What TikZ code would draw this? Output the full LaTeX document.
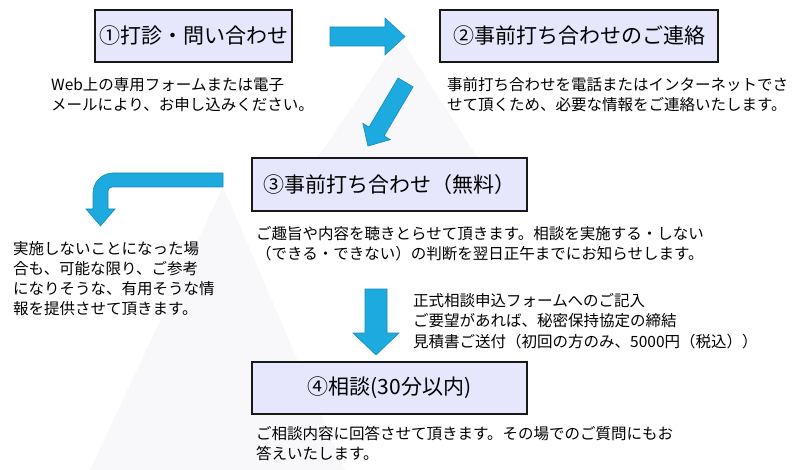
\documentclass[tikz,border=0pt]{standalone}
\usepackage{fontspec}
\setmainfont{Noto Sans CJK JP}
\definecolor{boxfill}{RGB}{230,230,252}
\definecolor{arrowfill}{RGB}{29,170,222}
\definecolor{arrowline}{RGB}{22,140,190}
\definecolor{bgtri}{RGB}{248,248,250}
\tikzset{
  stepbox/.style={draw=black!90, line width=1.6pt, fill=boxfill, minimum width=#1,
    minimum height=52pt, inner sep=0pt, font=\fontsize{21}{24}\selectfont},
  bodytext/.style={anchor=north west, inner sep=0pt, align=left,
    font=\fontsize{15.5}{20}\selectfont},
  blockarrow/.style={fill=arrowfill, draw=arrowline, line width=0.6pt, line join=miter},
}
\begin{document}
\begin{tikzpicture}[x=1pt,y=-1pt]
\useasboundingbox (0,0) rectangle (800,470);
\fill[white] (0,0) rectangle (800,470);
% faint background beams
\fill[bgtri] (400,37) -- (318,157) -- (477,157) -- cycle;
\fill[bgtri] (223,187) -- (90,470) -- (345,470) -- cycle;

% boxes
\node[stepbox=197pt] (s1) at (193.5,36) {①打診・問い合わせ};
\node[stepbox=278pt] (s2) at (579,36) {②事前打ち合わせのご連絡};
\node[stepbox=275pt, minimum height=53pt] (s3) at (389.5,184.5) {③事前打ち合わせ（無料）};
\node[stepbox=275pt] (s4) at (389.5,388) {④相談(30分以内)};

% texts
\node[bodytext] (t1) at (51,77) {Web上の専用フォームまたは電子\\メールにより、お申し込みください。};
\node[bodytext] (t2) at (447,77) {事前打ち合わせを電話またはインターネットでさ\\せて頂くため、必要な情報をご連絡いたします。};
\node[bodytext] (t3) at (256,226) {ご趣旨や内容を聴きとらせて頂きます。相談を実施する・しない\\（できる・できない）の判断を翌日正午までにお知らせします。};
\node[bodytext] (tl) at (13,241) {実施しないことになった場\\合も、可能な限り、ご参考\\になりそうな、有用そうな情\\報を提供させて頂きます。};
\node[bodytext, font=\fontsize{15.5}{20.5}\selectfont] (tr) at (413,293) {正式相談申込フォームへのご記入\\ご要望があれば、秘密保持協定の締結\\見積書ご送付（初回の方のみ、5000円（税込））};
\node[bodytext] (t4) at (256,426) {ご相談内容に回答させて頂きます。その場でのご質問にもお\\答えいたします。};

% arrows
\path[blockarrow] (330,27) -- (385,27) -- (385,18) -- (405,36.5) -- (385,55) -- (385,46) -- (330,46) -- cycle;
\begin{scope}[shift={(386.75,114.25)}, rotate=239.4]
\path[blockarrow] (-37,-8.75) -- (20,-8.75) -- (20,-16) -- (37,0) -- (20,16) -- (20,8.75) -- (-37,8.75) -- cycle;
\end{scope}
\path[blockarrow] (365,289) -- (387,289) -- (387,333) -- (399,333) -- (376,355) -- (353,333) -- (365,333) -- cycle;
\path[blockarrow] (223,173) -- (113,173) .. controls (102,173) and (93,182) .. (93,193)
  -- (93,209) -- (86,209) -- (100.5,226) -- (115,209) -- (108,209) -- (108,191)
  .. controls (108,189) and (110,187) .. (112,187) -- (223,187) -- cycle;
\end{tikzpicture}
\end{document}
